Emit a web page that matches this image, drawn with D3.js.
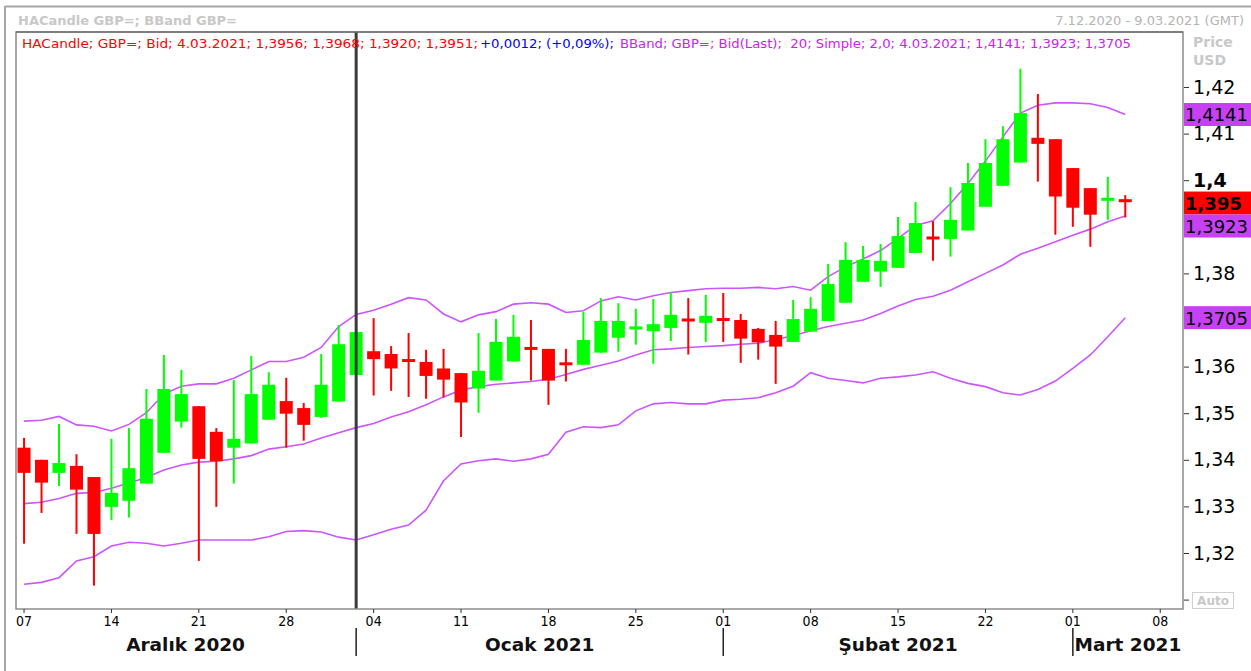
<!DOCTYPE html>
<html>
<head>
<meta charset="utf-8">
<script src="https://cdn.jsdelivr.net/npm/d3@7"></script>
<style>
  body { margin: 0; background: #fff; }
  svg { display: block; }
  text { font-family: "DejaVu Sans", Verdana, sans-serif; }
</style>
</head>
<body>
<div id="chart"></div>
<script>
// trading days on the x axis (weekdays 7.12.2020 - 9.03.2021)
const days = [
  "2020-12-07","2020-12-08","2020-12-09","2020-12-10","2020-12-11",
  "2020-12-14","2020-12-15","2020-12-16","2020-12-17","2020-12-18",
  "2020-12-21","2020-12-22","2020-12-23","2020-12-24","2020-12-25",
  "2020-12-28","2020-12-29","2020-12-30","2020-12-31","2021-01-01",
  "2021-01-04","2021-01-05","2021-01-06","2021-01-07","2021-01-08",
  "2021-01-11","2021-01-12","2021-01-13","2021-01-14","2021-01-15",
  "2021-01-18","2021-01-19","2021-01-20","2021-01-21","2021-01-22",
  "2021-01-25","2021-01-26","2021-01-27","2021-01-28","2021-01-29",
  "2021-02-01","2021-02-02","2021-02-03","2021-02-04","2021-02-05",
  "2021-02-08","2021-02-09","2021-02-10","2021-02-11","2021-02-12",
  "2021-02-15","2021-02-16","2021-02-17","2021-02-18","2021-02-19",
  "2021-02-22","2021-02-23","2021-02-24","2021-02-25","2021-02-26",
  "2021-03-01","2021-03-02","2021-03-03","2021-03-04","2021-03-05",
  "2021-03-08","2021-03-09"
]

// Heikin-Ashi candles (first 64 days)
const open = [1.3426,1.3400,1.3372,1.3387,1.3363,1.3299,1.3312,1.3349,1.3415,1.3482,
  1.3515,1.3460,1.3426,1.3435,1.3486,1.3526,1.3511,1.3492,1.3525,1.3582,
  1.3633,1.3627,1.3613,1.3610,1.3596,1.3586,1.3553,1.3570,1.3611,1.3639,
  1.3638,1.3606,1.3604,1.3630,1.3662,1.3677,1.3676,1.3683,1.3700,1.3694,
  1.3701,1.3700,1.3681,1.3668,1.3653,1.3675,1.3698,1.3737,1.3782,1.3804,
  1.3812,1.3844,1.3876,1.3874,1.3892,1.3943,1.3988,1.4038,1.4091,1.4088,
  1.4026,1.3983,1.3955,1.3956]
const high = [1.3447,1.3400,1.3477,1.3412,1.3363,1.3445,1.3468,1.3552,1.3625,1.3593,
  1.3515,1.3468,1.3571,1.3623,1.3588,1.3576,1.3522,1.3627,1.3689,1.3683,
  1.3704,1.3644,1.3672,1.3636,1.3638,1.3586,1.3672,1.3702,1.3711,1.3700,
  1.3638,1.3638,1.3717,1.3747,1.3736,1.3724,1.3745,1.3760,1.3747,1.3754,
  1.3758,1.3713,1.3683,1.3698,1.3743,1.3749,1.3820,1.3867,1.3859,1.3863,
  1.3921,1.3953,1.3912,1.3985,1.4037,1.4088,1.4116,1.4239,1.4185,1.4088,
  1.4026,1.3983,1.4007,1.3968]
const low = [1.3220,1.3286,1.3344,1.3241,1.3130,1.3271,1.3276,1.3349,1.3415,1.3469,
  1.3183,1.3299,1.3349,1.3435,1.3486,1.3426,1.3441,1.3490,1.3525,1.3582,
  1.3538,1.3548,1.3535,1.3531,1.3534,1.3449,1.3501,1.3570,1.3611,1.3570,
  1.3518,1.3568,1.3604,1.3630,1.3632,1.3647,1.3606,1.3655,1.3626,1.3653,
  1.3653,1.3608,1.3615,1.3563,1.3653,1.3675,1.3698,1.3737,1.3782,1.3771,
  1.3812,1.3844,1.3827,1.3836,1.3892,1.3943,1.3988,1.4038,1.3997,1.3883,
  1.3900,1.3857,1.3915,1.3920]
const close = [1.3372,1.3351,1.3393,1.3336,1.3241,1.3329,1.3382,1.3488,1.3552,1.3541,
  1.3402,1.3397,1.3445,1.3541,1.3561,1.3499,1.3475,1.3561,1.3648,1.3674,
  1.3616,1.3596,1.3608,1.3580,1.3572,1.3523,1.3591,1.3653,1.3664,1.3635,
  1.3570,1.3601,1.3657,1.3698,1.3698,1.3683,1.3691,1.3711,1.3696,1.3709,
  1.3696,1.3660,1.3652,1.3643,1.3702,1.3724,1.3777,1.3829,1.3829,1.3827,
  1.3880,1.3908,1.3872,1.3915,1.3994,1.4037,1.4088,1.4144,1.4078,1.3965,
  1.3941,1.3926,1.3959,1.3951]

// Bollinger band (20; Simple; 2,0)
const bbUpper = [1.3483,1.3485,1.3493,1.3475,1.3472,1.3462,1.3476,1.3501,1.3541,1.3558,
  1.3563,1.3563,1.3575,1.3593,1.3611,1.3611,1.3620,1.3641,1.3686,1.3712,
  1.3721,1.3734,1.3748,1.3743,1.3713,1.3696,1.3711,1.3718,1.3734,1.3737,
  1.3734,1.3716,1.3720,1.3741,1.3750,1.3743,1.3752,1.3759,1.3763,1.3767,
  1.3768,1.3768,1.3770,1.3767,1.3772,1.3764,1.3793,1.3814,1.3831,1.3849,
  1.3875,1.3903,1.3913,1.3950,1.3993,1.4041,1.4093,1.4144,1.4161,1.4166,
  1.4166,1.4164,1.4156,1.4141]
const bbMiddle = [1.3306,1.3309,1.3317,1.3328,1.3330,1.3339,1.3350,1.3362,1.3378,1.3389,
  1.3395,1.3397,1.3402,1.3409,1.3423,1.3428,1.3434,1.3447,1.3458,1.3469,
  1.3478,1.3492,1.3503,1.3518,1.3535,1.3550,1.3557,1.3562,1.3565,1.3568,
  1.3573,1.3583,1.3594,1.3603,1.3612,1.3625,1.3636,1.3638,1.3641,1.3643,
  1.3645,1.3648,1.3650,1.3658,1.3666,1.3677,1.3686,1.3693,1.3700,1.3714,
  1.3730,1.3744,1.3751,1.3764,1.3782,1.3800,1.3818,1.3841,1.3854,1.3868,
  1.3882,1.3895,1.3911,1.3923]
const bbLower = [1.3133,1.3137,1.3147,1.3183,1.3192,1.3215,1.3223,1.3221,1.3215,1.3221,
  1.3228,1.3228,1.3228,1.3228,1.3235,1.3246,1.3248,1.3245,1.3234,1.3228,
  1.3239,1.3251,1.3260,1.3292,1.3355,1.3391,1.3398,1.3402,1.3397,1.3402,
  1.3412,1.3459,1.3471,1.3469,1.3475,1.3505,1.3520,1.3523,1.3520,1.3520,
  1.3528,1.3530,1.3533,1.3544,1.3558,1.3587,1.3575,1.3570,1.3565,1.3575,
  1.3578,1.3582,1.3589,1.3575,1.3564,1.3557,1.3544,1.3539,1.3551,1.3569,
  1.3596,1.3625,1.3664,1.3705]

const priceTicks = [1.31,1.32,1.33,1.34,1.35,1.36,1.37,1.38,1.39,1.40,1.41,1.42]
const weekTicks = ["2020-12-07","2020-12-14","2020-12-21","2020-12-28","2021-01-04",
  "2021-01-11","2021-01-18","2021-01-25","2021-02-01","2021-02-08","2021-02-15",
  "2021-02-22","2021-03-01","2021-03-08"]
const monthLabels = ["Aralık 2020", "Ocak 2021", "Şubat 2021", "Mart 2021"]
const monthStarts = ["2020-12-07", "2021-01-01", "2021-02-01", "2021-03-01"]

// layout
const W = 1251, H = 671
const plot = { left: 16, right: 1183, top: 32, bottom: 609 }
const green = "#00ff00", red = "#ff0000", band = "#cc55ff"

const svg = d3.select("#chart").append("svg")
    .attr("width", W)
    .attr("height", H)

svg.append("rect").attr("width", W).attr("height", H).attr("fill", "#fff")

// scales
const x = d3.scaleBand()
    .domain(days)
    .range([15.3, 15.3 + days.length * 17.48])
const cx = d => x(d) + x.bandwidth() / 2

const y = d3.scaleLinear()
    .domain([1.32, 1.42])
    .range([553, 87])

const fmt = v => String(+v.toFixed(4)).replace(".", ",")

// outer frame + header
svg.append("line").attr("x1", 5).attr("x2", W).attr("y1", 6.5).attr("y2", 6.5)
    .attr("stroke", "#a8a8a8").attr("stroke-width", 2)
svg.append("line").attr("x1", 5).attr("x2", 5).attr("y1", 6).attr("y2", H)
    .attr("stroke", "#a8a8a8").attr("stroke-width", 2)

svg.append("text").attr("x", 18).attr("y", 25)
    .style("font-size", "13px").style("font-weight", "bold").attr("fill", "#c8c8c8")
    .text("HACandle GBP=; BBand GBP=")
svg.append("text").attr("x", 1244).attr("y", 25).attr("text-anchor", "end")
    .style("font-size", "13px").attr("fill", "#b4b4b4")
    .text("7.12.2020 - 9.03.2021 (GMT)")

// plot clip
svg.append("clipPath").attr("id", "clip")
  .append("rect")
    .attr("x", plot.left).attr("y", plot.top)
    .attr("width", plot.right - plot.left).attr("height", plot.bottom - plot.top)

const g = svg.append("g").attr("clip-path", "url(#clip)")

// bollinger lines
const bandLine = vals => d3.line()
    .x((v, i) => cx(days[i]))
    .y(v => y(v))(vals)

;[bbUpper, bbMiddle, bbLower].forEach(vals => {
    g.append("path")
        .attr("d", bandLine(vals))
        .attr("fill", "none")
        .attr("stroke", band)
        .attr("stroke-width", 1.6)
})

// candles
const candles = open.map((o, i) => ({ day: days[i], o: o, h: high[i], l: low[i], c: close[i] }))

const cg = g.selectAll(".candle")
    .data(candles)
    .enter()
    .append("g")
    .attr("class", "candle")

cg.append("line")
    .attr("x1", d => cx(d.day)).attr("x2", d => cx(d.day))
    .attr("y1", d => y(d.h)).attr("y2", d => y(d.l))
    .attr("stroke", d => d.c >= d.o ? green : red)
    .attr("stroke-width", 2)

cg.append("rect")
    .attr("x", d => cx(d.day) - 6.5)
    .attr("width", 13)
    .attr("y", d => Math.min(y(d.o), y(d.c)) - (Math.abs(y(d.o) - y(d.c)) < 3 ? 1.5 : 0))
    .attr("height", d => Math.max(3, Math.abs(y(d.o) - y(d.c))))
    .attr("fill", d => d.c >= d.o ? green : red)

// year separator in the plot
g.append("line")
    .attr("x1", cx("2021-01-01")).attr("x2", cx("2021-01-01"))
    .attr("y1", plot.top).attr("y2", plot.bottom)
    .attr("stroke", "#3a3a3a").attr("stroke-width", 3)

// legend line
const legend = [
    { x: 22, w: 456, color: "#ff0000", text: "HACandle; GBP=; Bid; 4.03.2021; 1,3956; 1,3968; 1,3920; 1,3951;" },
    { x: 480, w: 134, color: "#0000ff", text: "+0,0012; (+0,09%);" },
    { x: 620, w: 511, color: "#cc22ee", text: "BBand; GBP=; Bid(Last);  20; Simple; 2,0; 4.03.2021; 1,4141; 1,3923; 1,3705" }
]
legend.forEach(l => {
    svg.append("text")
        .attr("x", l.x).attr("y", 48)
        .attr("textLength", l.w).attr("lengthAdjust", "spacingAndGlyphs")
        .style("font-size", "12px").style("white-space", "pre")
        .attr("fill", l.color)
        .text(l.text)
})

// plot frame
svg.append("rect")
    .attr("x", plot.left).attr("y", plot.top)
    .attr("width", plot.right - plot.left).attr("height", plot.bottom - plot.top)
    .attr("fill", "none").attr("stroke", "#8c8c8c").attr("stroke-width", 1.5)
svg.append("line").attr("x1", plot.left).attr("x2", plot.right)
    .attr("y1", plot.top).attr("y2", plot.top)
    .attr("stroke", "#555").attr("stroke-width", 1.2)

// last value boxes (pushed down so they do not overlap)
const last = open.length - 1
const boxes = [
    { v: bbUpper[last], label: fmt(bbUpper[last]), fill: "#c840f5", bold: false },
    { v: close[last], label: close[last].toFixed(3).replace(".", ","), fill: "#ff0000", bold: true },
    { v: bbMiddle[last], label: fmt(bbMiddle[last]), fill: "#c840f5", bold: false },
    { v: bbLower[last], label: fmt(bbLower[last]), fill: "#c840f5", bold: false }
]
let prev = -Infinity
boxes.forEach(b => {
    b.cy = Math.max(y(b.v), prev + 23)
    prev = b.cy
})
// a tick label is hidden when a value box or the Auto button sits on it
const hidden = v => y(v) > 590 || boxes.some(b => Math.abs(b.cy - y(v)) < 17)

// price axis on the right
svg.append("text").attr("x", 1193).attr("y", 47)
    .style("font-size", "14px").style("font-weight", "bold").attr("fill", "#c8c8c8").text("Price")
svg.append("text").attr("x", 1193).attr("y", 65)
    .style("font-size", "14px").style("font-weight", "bold").attr("fill", "#c8c8c8").text("USD")

const yAxis = d3.axisRight(y)
    .tickValues(priceTicks)
    .tickSize(5)
    .tickPadding(4)
    .tickFormat(v => hidden(v) ? "" : fmt(v))

const ya = svg.append("g")
    .attr("transform", "translate(" + (plot.right + 1) + ",0)")
    .call(yAxis)
ya.select(".domain").remove()
ya.selectAll("line").attr("stroke", "#333")
ya.selectAll("text")
    .style("font-size", "19px")
    .style("font-family", "'DejaVu Sans', Verdana, sans-serif")
    .style("font-weight", d => Math.abs(d * 10 - Math.round(d * 10)) < 1e-6 ? "bold" : "normal")
    .attr("fill", "#000")

// "Auto" button over the lowest tick
svg.append("rect").attr("x", 1192.5).attr("y", 592.5).attr("width", 41).attr("height", 16)
    .attr("fill", "#fff").attr("stroke", "#d0d0d0")
svg.append("text").attr("x", 1213).attr("y", 605).attr("text-anchor", "middle")
    .style("font-size", "12px").style("font-weight", "bold").attr("fill", "#c8c8c8").text("Auto")

const bx = svg.selectAll(".vbox").data(boxes).enter().append("g").attr("class", "vbox")
bx.append("rect")
    .attr("x", plot.right + 1).attr("y", d => d.cy - 11.5)
    .attr("width", W - plot.right).attr("height", 23)
    .attr("fill", d => d.fill)
bx.append("text")
    .attr("x", plot.right + 2).attr("y", d => d.cy + 7)
    .style("font-size", "18px")
    .style("font-weight", d => d.bold ? "bold" : "normal")
    .attr("fill", "#000")
    .text(d => d.label)

// date axis
const xAxis = d3.axisBottom(x)
    .tickValues(weekTicks)
    .tickSize(4)
    .tickPadding(3)
    .tickFormat(d => d.slice(8))

const xa = svg.append("g")
    .attr("transform", "translate(0," + plot.bottom + ")")
    .call(xAxis)
xa.select(".domain").remove()
xa.selectAll("line").attr("stroke", "#333")
xa.selectAll("text")
    .style("font-size", "14px")
    .style("font-family", "'DejaVu Sans Condensed', 'DejaVu Sans', sans-serif")
    .attr("fill", "#000")

// month separators and labels
const seps = monthStarts.map((d, i) => i === 0 ? 15 : cx(d))
seps.forEach((sx, i) => {
    if (i === 0) return
    svg.append("line")
        .attr("x1", sx).attr("x2", sx).attr("y1", 628).attr("y2", 656)
        .attr("stroke", "#222").attr("stroke-width", 1.5)
})
monthLabels.forEach((m, i) => {
    const a = seps[i], b = i + 1 < seps.length ? seps[i + 1] : plot.right
    svg.append("text")
        .attr("x", (a + b) / 2).attr("y", 651)
        .attr("text-anchor", "middle")
        .style("font-size", "18.5px").style("font-weight", "bold")
        .attr("fill", "#111")
        .text(m)
})
</script>
</body>
</html>
